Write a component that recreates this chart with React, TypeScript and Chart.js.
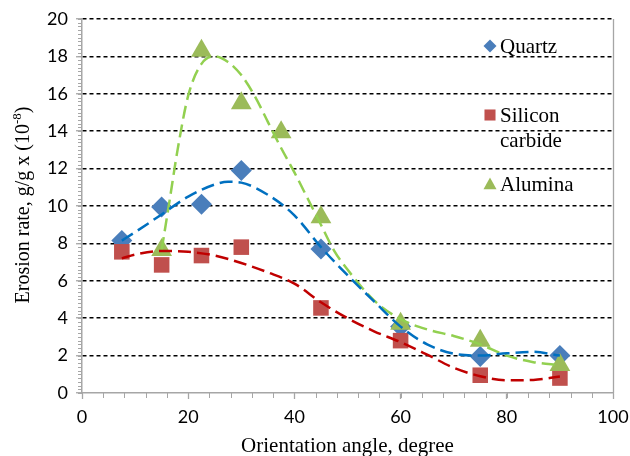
import React, { useEffect, useRef } from 'react';
import { Chart, registerables } from 'chart.js';
Chart.register(...registerables);

// ---- data ----
const quartzAngles = [7.5, 15, 22.5, 30, 45, 60, 75, 90];
const quartzRate = [8.15, 9.95, 10.1, 11.9, 7.7, 3.55, 1.95, 2.0];

const sicAngles = [7.5, 15, 22.5, 30, 45, 60, 75, 90];
const sicRate = [7.55, 6.85, 7.35, 7.8, 4.55, 2.8, 0.95, 0.8];

const aluminaAngles = [15, 22.5, 30, 37.5, 45, 60, 75, 90];
const aluminaRate = [7.65, 18.3, 15.5, 13.95, 9.4, 3.7, 2.8, 1.5];

// trend lines
const quartzTrendX = [7.5, 10, 15, 20, 25, 27.5, 30, 35, 40, 45, 50, 55, 60, 65, 70, 75, 80, 85, 90];
const quartzTrendY = [8.15, 8.6, 9.55, 10.5, 11.15, 11.3, 11.25, 10.6, 9.5, 7.8, 6.3, 4.9, 3.55, 2.6, 2.1, 2.0, 2.12, 2.2, 2.0];

const sicTrendX = [7.5, 10, 15, 20, 25, 30, 35, 40, 45, 50, 55, 60, 65, 70, 75, 80, 85, 90];
const sicTrendY = [7.2, 7.4, 7.6, 7.55, 7.35, 6.95, 6.45, 5.85, 4.85, 4.0, 3.3, 2.72, 2.05, 1.35, 0.9, 0.68, 0.7, 0.88];

const aluminaTrendX = [15, 16.5, 18, 20, 22.5, 25, 27.5, 30, 32.5, 35, 37.5, 40, 42.5, 45, 47.5, 50, 55, 60, 65, 70, 75, 80, 85, 90];
const aluminaTrendY = [7.65, 10.3, 13.0, 15.9, 17.6, 18.0, 17.7, 17.0, 15.9, 14.5, 13.1, 11.8, 10.4, 9.0, 7.6, 6.6, 4.95, 3.95, 3.4, 3.05, 2.6, 2.0, 1.65, 1.5];

const seriesNames = ['Quartz', 'Silicon carbide', 'Alumina'];
const xTitle = 'Orientation angle, degree';
const yTitleMain = 'Erosion rate, g/g x (10';
const yTitleSup = '-8';
const yTitleEnd = ')';

const xMin = 0, xMax = 100, xStep = 20, xMinorStep = 4;
const yMin = 0, yMax = 20, yStep = 2, yMinorStep = 0.2;

const pts = (xs: number[], ys: number[]) => xs.map((x, i) => ({ x, y: ys[i] }));

const BLUE = '#4a7ebb';
const RED = '#c0504d';
const GREEN = '#9bbb59';
const AXIS = '#a6a6a6';
const SERIF = '"Liberation Serif", "Times New Roman", serif';
const SANS = 'Lato, "Open Sans", sans-serif';

function drawMarker(ctx: CanvasRenderingContext2D, kind: string, x: number, y: number, s: number, color: string) {
  ctx.fillStyle = color;
  ctx.beginPath();
  if (kind === 'diamond') {
    ctx.moveTo(x - s, y); ctx.lineTo(x, y - s); ctx.lineTo(x + s, y); ctx.lineTo(x, y + s);
  } else if (kind === 'square') {
    ctx.rect(x - s * 0.85, y - s * 0.85, s * 1.7, s * 1.7);
  } else {
    ctx.moveTo(x, y - s); ctx.lineTo(x + s, y + s * 0.8); ctx.lineTo(x - s, y + s * 0.8);
  }
  ctx.closePath();
  ctx.fill();
}

const decorPlugin = {
  id: 'decor',
  afterDraw(chart: any) {
    const ctx: CanvasRenderingContext2D = chart.ctx;
    const { left, right, top, bottom } = chart.chartArea;
    const xs = chart.scales.x;
    const ys = chart.scales.y;
    ctx.save();
    // right border of plot
    ctx.strokeStyle = AXIS;
    ctx.lineWidth = 1.3;
    ctx.beginPath();
    ctx.moveTo(Math.round(right) + 0.5, top);
    ctx.lineTo(Math.round(right) + 0.5, bottom);
    ctx.stroke();
    // minor ticks
    ctx.lineWidth = 1;
    ctx.beginPath();
    for (let v = yMin; v <= yMax + 1e-6; v += yMinorStep) {
      const py = Math.round(ys.getPixelForValue(v)) + 0.5;
      ctx.moveTo(left - 4, py);
      ctx.lineTo(left, py);
    }
    for (let v = xMin; v <= xMax + 1e-6; v += xMinorStep) {
      const px = Math.round(xs.getPixelForValue(v)) + 0.5;
      ctx.moveTo(px, bottom);
      ctx.lineTo(px, bottom + 5);
    }
    ctx.stroke();

    // axis titles
    ctx.fillStyle = '#000';
    ctx.font = `21px ${SERIF}`;
    ctx.textAlign = 'center';
    ctx.textBaseline = 'alphabetic';
    ctx.fillText(xTitle, (left + right) / 2, 452);

    // y title rotated with superscript
    ctx.save();
    ctx.translate(29, 205);
    ctx.rotate(-Math.PI / 2);
    ctx.font = `20px ${SERIF}`;
    const w1 = ctx.measureText(yTitleMain).width;
    ctx.font = `13px ${SERIF}`;
    const w2 = ctx.measureText(yTitleSup).width;
    ctx.font = `20px ${SERIF}`;
    const w3 = ctx.measureText(yTitleEnd).width;
    const total = w1 + w2 + w3;
    let cx = -total / 2;
    ctx.textAlign = 'left';
    ctx.fillText(yTitleMain, cx, 0);
    cx += w1;
    ctx.font = `13px ${SERIF}`;
    ctx.fillText(yTitleSup, cx, -8);
    cx += w2;
    ctx.font = `20px ${SERIF}`;
    ctx.fillText(yTitleEnd, cx, 0);
    ctx.restore();

    // legend
    ctx.font = `21px ${SERIF}`;
    ctx.textAlign = 'left';
    ctx.textBaseline = 'middle';
    drawMarker(ctx, 'diamond', 490, 46, 6.5, BLUE);
    ctx.fillStyle = '#000';
    ctx.fillText(seriesNames[0], 500, 47);
    drawMarker(ctx, 'square', 490, 115, 6.5, RED);
    ctx.fillStyle = '#000';
    ctx.fillText('Silicon', 500, 116);
    ctx.fillText('carbide', 500, 141);
    drawMarker(ctx, 'triangle', 490, 184, 6.5, GREEN);
    ctx.fillStyle = '#000';
    ctx.fillText(seriesNames[2], 500, 185);
    ctx.restore();
  },
};

export default function App() {
  const ref = useRef<HTMLCanvasElement | null>(null);
  useEffect(() => {
    if (!ref.current) return;
    const trendCommon = {
      type: 'line' as const,
      pointRadius: 0,
      borderWidth: 2.5,
      borderDash: [13, 6],
      cubicInterpolationMode: 'monotone' as const,
      fill: false,
      order: 0,
    };
    const chart = new Chart(ref.current, {
      type: 'scatter',
      data: {
        datasets: [
          { ...trendCommon, label: 'Quartz trend', data: pts(quartzTrendX, quartzTrendY), borderColor: '#0070c0' },
          { ...trendCommon, label: 'SiC trend', data: pts(sicTrendX, sicTrendY), borderColor: '#c00000' },
          { ...trendCommon, label: 'Alumina trend', data: pts(aluminaTrendX, aluminaTrendY), borderColor: '#92d050' },
          {
            label: seriesNames[2], data: pts(aluminaAngles, aluminaRate),
            pointStyle: 'triangle', pointRadius: 12, backgroundColor: GREEN, borderColor: GREEN, borderWidth: 0, order: 1,
          },
          {
            label: seriesNames[1], data: pts(sicAngles, sicRate),
            pointStyle: 'rect', pointRadius: 11, backgroundColor: RED, borderColor: RED, borderWidth: 0, order: 2,
          },
          {
            label: seriesNames[0], data: pts(quartzAngles, quartzRate),
            pointStyle: 'rectRot', pointRadius: 10.5, backgroundColor: BLUE, borderColor: BLUE, borderWidth: 0, order: 3,
          },
        ],
      },
      options: {
        animation: false,
        responsive: false,
        maintainAspectRatio: false,
        layout: { padding: { left: 0, right: 17, top: 19, bottom: 0 } },
        plugins: { legend: { display: false }, tooltip: { enabled: false } },
        scales: {
          x: {
            type: 'linear',
            min: xMin, max: xMax,
            afterFit: (s: any) => { s.height = 63; s.paddingLeft = 0; s.paddingRight = 0; },
            ticks: { stepSize: xStep, color: '#000', font: { family: SANS, size: 18 }, padding: 7, maxRotation: 0 },
            grid: { drawOnChartArea: false, drawTicks: true, tickLength: 6, tickColor: AXIS, tickWidth: 1.3 },
            border: { color: AXIS, width: 1.5 },
          },
          y: {
            type: 'linear',
            min: yMin, max: yMax,
            afterFit: (s: any) => { s.width = 82; s.paddingTop = 0; s.paddingBottom = 0; },
            ticks: { stepSize: yStep, color: '#000', font: { family: SANS, size: 18 }, padding: 8 },
            grid: {
              color: (c: any) => (c.tick && c.tick.value === 0 ? 'rgba(0,0,0,0)' : '#000'),
              lineWidth: 1.5,
              drawTicks: true,
              tickLength: 6,
              tickColor: AXIS,
              tickWidth: 1.3,
            },
            border: { color: AXIS, width: 1.5, dash: [4, 3] },
          },
        },
      },
      plugins: [decorPlugin],
    } as any);
    return () => chart.destroy();
  }, []);
  return (
    <div style={{ position: 'absolute', left: 0, top: 0, width: 630, height: 456, background: '#fff' }}>
      <canvas ref={ref} width={630} height={456} />
    </div>
  );
}
